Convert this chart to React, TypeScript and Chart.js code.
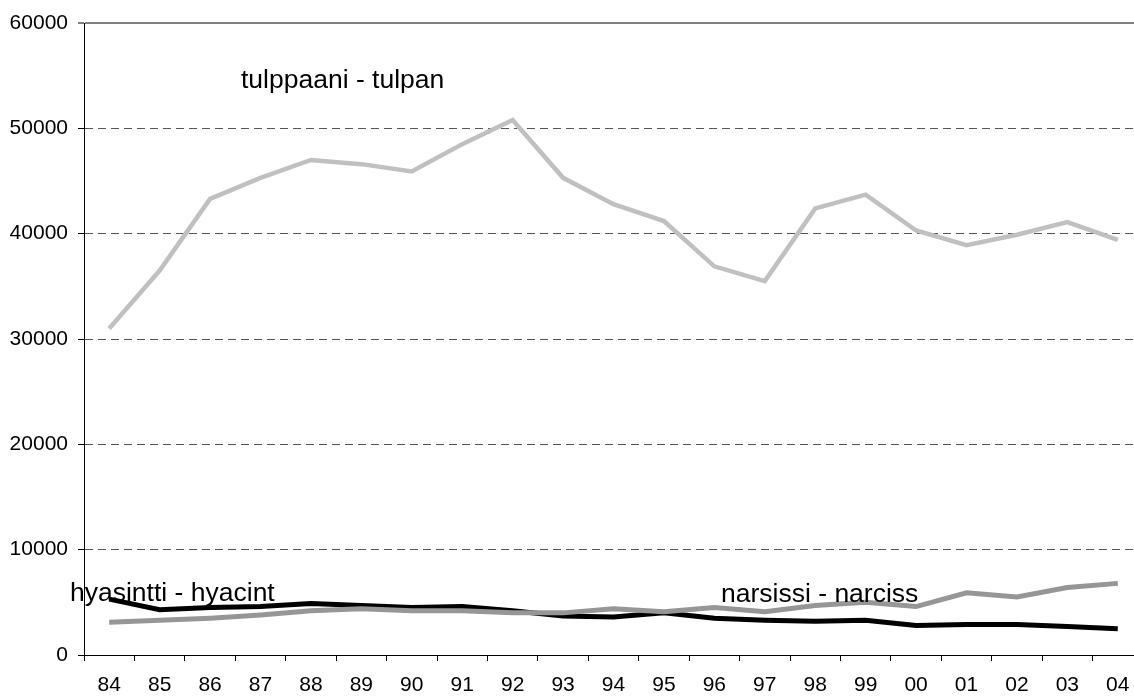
import React, { useEffect, useRef } from 'react';
import { Chart, registerables } from 'chart.js';

Chart.register(...registerables);

const FONT = '"Liberation Sans", Arial, sans-serif';

const years = ['84', '85', '86', '87', '88', '89', '90', '91', '92', '93', '94', '95', '96', '97', '98', '99', '00', '01', '02', '03', '04'];
const tulppaani = [31000, 36500, 43300, 45300, 47000, 46600, 45900, 48500, 50800, 45300, 42800, 41200, 36900, 35500, 42400, 43700, 40300, 38900, 39900, 41100, 39400];
const narsissi = [3100, 3300, 3500, 3800, 4200, 4400, 4200, 4200, 4000, 4000, 4400, 4100, 4500, 4100, 4700, 5000, 4600, 5900, 5500, 6400, 6800];
const hyasintti = [5300, 4300, 4500, 4600, 4900, 4700, 4500, 4600, 4200, 3700, 3600, 4000, 3500, 3300, 3200, 3300, 2800, 2900, 2900, 2700, 2500];

const seriesLabels = ['tulppaani - tulpan', 'hyasintti - hyacint', 'narsissi - narciss'];

const yMax = 60000;
const yStep = 10000;

const labelPlugin = {
  id: 'seriesText',
  afterDatasetsDraw(chart: any) {
    const ctx = chart.ctx;
    const spots = [
      { x: 241, y: 88 },
      { x: 70, y: 601 },
      { x: 721, y: 602 },
    ];
    ctx.save();
    ctx.font = `26.5px ${FONT}`;
    ctx.fillStyle = '#000';
    ctx.textBaseline = 'alphabetic';
    ctx.textAlign = 'left';
    seriesLabels.forEach((t, i) => ctx.fillText(t, spots[i].x, spots[i].y));
    ctx.restore();
  },
};

export default function App() {
  const ref = useRef<HTMLCanvasElement>(null);
  useEffect(() => {
    const chart = new Chart(ref.current as HTMLCanvasElement, {
      type: 'line',
      data: {
        labels: years,
        datasets: [
          { label: seriesLabels[2], data: narsissi, borderColor: '#969696', borderWidth: 5, pointRadius: 0, tension: 0 },
          { label: seriesLabels[1], data: hyasintti, borderColor: '#000000', borderWidth: 5, pointRadius: 0, tension: 0 },
          { label: seriesLabels[0], data: tulppaani, borderColor: '#c0c0c0', borderWidth: 4.5, pointRadius: 0, tension: 0 },
        ],
      },
      options: {
        animation: false,
        responsive: false,
        layout: { padding: { top: 23, right: 0, bottom: 0, left: 0 } },
        plugins: { legend: { display: false }, tooltip: { enabled: false } },
        scales: {
          x: {
            offset: true,
            grid: { offset: true, drawOnChartArea: false, drawTicks: true, tickLength: 6, color: '#000', tickColor: '#000', lineWidth: 1, tickBorderDash: [] },
            border: { color: '#000', width: 1 },
            ticks: { font: { family: FONT, size: 21 }, color: '#000', padding: 12, maxRotation: 0, autoSkip: false },
            afterFit: (s: any) => { s.height = 41; },
          },
          y: {
            min: 0,
            max: yMax,
            ticks: {
              stepSize: yStep,
              font: { family: FONT, size: 21 },
              color: '#000',
              padding: 10,
              callback: (v: any) => String(v),
            },
            grid: {
              color: (c: any) => (c.tick && c.tick.value === yMax ? '#808080' : c.tick && c.tick.value === 0 ? 'rgba(0,0,0,0)' : '#555555'),
              lineWidth: (c: any) => (c.tick && c.tick.value === yMax ? 2 : 1),
              tickColor: '#000',
              tickLength: 6,
              tickWidth: 1,
              tickBorderDash: [],
            },
            border: {
              color: '#000',
              width: 1,
              dash: (c: any) => (c.tick && c.tick.value === yMax ? [] : [8, 5]),
            },
            afterFit: (s: any) => { s.width = 84; },
          },
        },
      },
      plugins: [labelPlugin],
    } as any);
    return () => chart.destroy();
  }, []);
  return (
    <div style={{ position: 'fixed', left: 0, top: 0, width: 1134, height: 696, overflow: 'hidden', background: '#fff' }}>
      <canvas ref={ref} width={1143} height={696} />
    </div>
  );
}
